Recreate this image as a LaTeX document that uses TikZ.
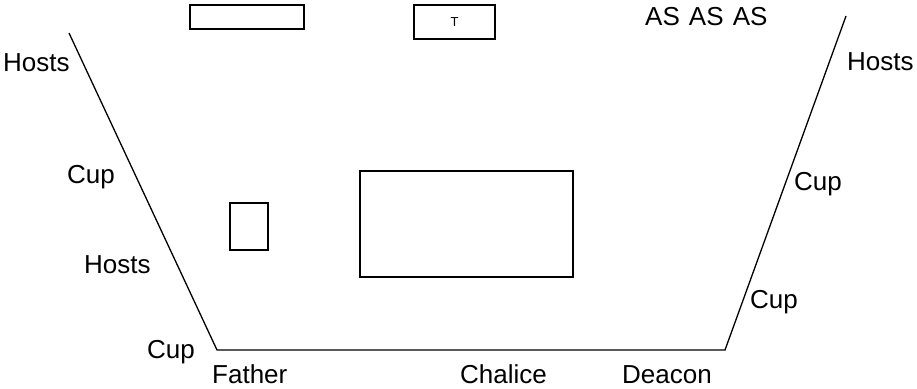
\documentclass[tikz,border=0pt]{standalone}
\usepackage{fontspec}
\setmainfont{Liberation Sans}
\begin{document}
\begin{tikzpicture}[x=1pt,y=-1pt,
  lbl/.style={font=\fontsize{26}{28}\selectfont, inner sep=0pt, anchor=base west},
  box/.style={draw, line width=1.3pt},
  wall/.style={line width=1.3pt}]
\useasboundingbox (0,0) rectangle (917,388);
\draw[box] (190,5) rectangle (304,29);
\node[box, minimum width=81pt, minimum height=34pt, inner sep=0pt, font=\fontsize{13}{14}\selectfont] (t) at (454.5,22) {T};
\draw[box] (230,203) rectangle (268,250);
\draw[box] (360,171) rectangle (573,277);
\coordinate (lt) at (69,33);
\coordinate (lb) at (217,350);
\coordinate (rb) at (725,350);
\coordinate (rt) at (846,16);
\draw[wall] (lt) -- (lb) -- (rb) -- (rt);
\node[lbl] (h1) at (3,71) {Hosts};
\node[lbl] (c1) at (67,183) {Cup};
\node[lbl] (h2) at (84,273) {Hosts};
\node[lbl] (c2) at (147,358) {Cup};
\node[lbl] (f) at (212,383) {Father};
\node[lbl] (ch) at (460,383) {Chalice};
\node[lbl] (d) at (622,383) {Deacon};
\node[lbl] (as) at (645,25) {AS\hspace{0.35em}AS\hspace{0.35em}AS};
\node[lbl] (h3) at (847,70) {Hosts};
\node[lbl] (c3) at (794,190) {Cup};
\node[lbl] (c4) at (750,308) {Cup};
\end{tikzpicture}
\end{document}
